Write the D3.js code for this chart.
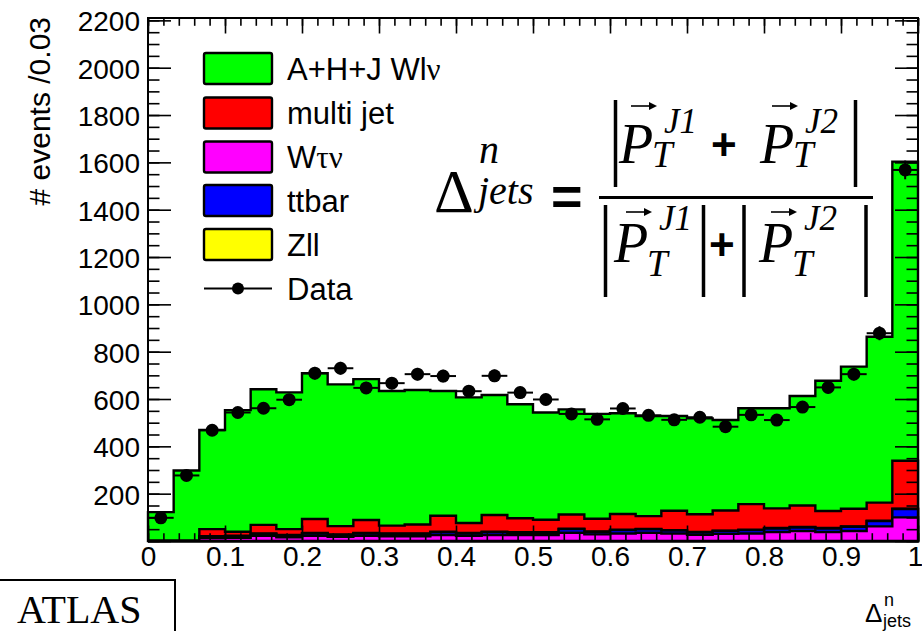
<!DOCTYPE html>
<html>
<head>
<meta charset="utf-8">
<script src="https://cdn.jsdelivr.net/npm/d3@7"></script>
<style>
  html, body { margin: 0; padding: 0; background: #fff; }
  svg { display: block; }
</style>
</head>
<body>
<svg id="chart" width="922" height="631"></svg>
<script>
// Histogram binning of the normalised dijet balance variable
const xMin = 0, xMax = 1, nBins = 30;

// Stacked simulation components (events per bin)
const wlnu     = [122, 298, 419, 514, 573, 578, 616, 599, 595, 569, 568, 527, 531, 507, 482,
                  453, 444, 443, 426, 423, 400, 405, 382, 405, 423, 463, 550, 601, 701, 1264];
const multijet = [0, 0, 30, 17, 36, 24, 59, 35, 55, 33, 38, 68, 42, 71, 59,
                  53, 60, 54, 66, 54, 82, 75, 85, 108, 83, 91, 72, 74, 76, 202];
const wtaunu   = [0, 0, 12, 14, 22, 16, 22, 18, 22, 20, 20, 25, 22, 25, 25,
                  25, 35, 28, 32, 35, 32, 26, 30, 32, 38, 42, 38, 42, 62, 100];
const ttbar    = [0, 0, 6, 6, 8, 8, 10, 8, 10, 10, 10, 12, 10, 12, 10,
                  10, 15, 10, 14, 14, 12, 10, 12, 14, 15, 15, 15, 18, 22, 35];
const zll      = [0, 0, 2, 2, 2, 2, 2, 2, 2, 2, 2, 2, 2, 2, 2,
                  2, 2, 2, 2, 2, 2, 2, 2, 2, 2, 2, 2, 2, 2, 2];

// Observed events per bin
const dataCounts = [98, 277, 468, 543, 561, 597, 709, 730, 647, 667, 705, 697, 633, 698, 627,
                    598, 537, 514, 560, 531, 512, 523, 483, 533, 511, 566, 649, 705, 878, 1568];

// Axis ticks
const xTickValues = [0, 0.1, 0.2, 0.3, 0.4, 0.5, 0.6, 0.7, 0.8, 0.9, 1];
const xTickLabels = ["0", "0.1", "0.2", "0.3", "0.4", "0.5", "0.6", "0.7", "0.8", "0.9", "1"];
const yTickValues = [200, 400, 600, 800, 1000, 1200, 1400, 1600, 1800, 2000, 2200];
const yMaxValue = 2210;

// Legend entries (stack is drawn bottom -> top: Wτν, ttbar, Zll, multi jet, Wlν)
const stackKeys = ["wtaunu", "ttbar", "zll", "multijet", "wlnu"];
const colors = { wlnu: "#00ff00", multijet: "#ff0000", wtaunu: "#ff00ff", ttbar: "#0000ff", zll: "#ffff00" };
const legendKeys = ["wlnu", "multijet", "wtaunu", "ttbar", "zll"];

const SANS = "'Liberation Sans', Arial, Helvetica, sans-serif";
const SERIF = "'Liberation Serif', 'Times New Roman', serif";

const svg = d3.select("#chart");
const frame = { left: 148, right: 918, top: 18, bottom: 541 };

const x = d3.scaleLinear().domain([xMin, xMax]).range([frame.left, frame.right]);
const y = d3.scaleLinear().domain([0, yMaxValue]).range([frame.bottom, frame.top]);
const binWidth = (xMax - xMin) / nBins;

// Build table rows for the stack
const rows = d3.range(nBins).map(i => ({
  lo: xMin + i * binWidth,
  hi: xMin + (i + 1) * binWidth,
  wlnu: wlnu[i], multijet: multijet[i], wtaunu: wtaunu[i], ttbar: ttbar[i], zll: zll[i]
}));
const stacked = d3.stack().keys(stackKeys)(rows);

function stepPath(layer) {
  const p = d3.path();
  p.moveTo(x(xMin), y(0));
  layer.forEach(d => {
    p.lineTo(x(d.data.lo), y(d[1]));
    p.lineTo(x(d.data.hi), y(d[1]));
  });
  p.lineTo(x(xMax), y(0));
  p.closePath();
  return p.toString();
}

const plot = svg.append("g");

// Draw cumulative layers from the top of the stack down
stacked.slice().reverse().forEach(layer => {
  plot.append("path")
    .attr("d", stepPath(layer))
    .attr("fill", colors[layer.key])
    .attr("stroke", "#000")
    .attr("stroke-width", 2.4)
    .attr("stroke-linejoin", "miter");
});

// Data points with error bars
const dataG = plot.append("g");
dataCounts.forEach((n, i) => {
  const lo = xMin + i * binWidth, hi = lo + binWidth, c = (lo + hi) / 2;
  const err = Math.sqrt(n);
  dataG.append("line")
    .attr("x1", x(lo)).attr("x2", x(hi)).attr("y1", y(n)).attr("y2", y(n))
    .attr("stroke", "#000").attr("stroke-width", 2);
  dataG.append("line")
    .attr("x1", x(c)).attr("x2", x(c)).attr("y1", y(n - err)).attr("y2", y(n + err))
    .attr("stroke", "#000").attr("stroke-width", 2);
  dataG.append("circle")
    .attr("cx", x(c)).attr("cy", y(n)).attr("r", 6.5).attr("fill", "#000");
});

// Axes: ROOT-style inward ticks on all four sides
const yMajorLen = 23, yMinorLen = 11.5, xMajorLen = 15.5, xMinorLen = 7.8;
const yMinorVals = d3.range(0, yMaxValue + 1, 50);
const xMinorVals = d3.range(0, 51).map(k => k * 0.02);

function styleAxis(g) {
  g.selectAll(".domain").remove();
  g.selectAll("line").attr("stroke", "#000").attr("stroke-width", 1.6);
}

// Left
svg.append("g").attr("transform", `translate(${frame.left},0)`)
  .call(d3.axisLeft(y).tickValues(yMinorVals).tickSize(-yMinorLen).tickFormat(""))
  .call(styleAxis);
svg.append("g").attr("transform", `translate(${frame.left},0)`)
  .call(d3.axisLeft(y).tickValues([0].concat(yTickValues)).tickSize(-yMajorLen).tickPadding(8)
        .tickFormat(d => d === 0 ? "" : String(d)))
  .call(styleAxis)
  .call(g => g.selectAll("text").attr("font-family", SANS).attr("font-size", 28)
        .attr("fill", "#000").attr("dy", "0.37em"));
// Right
svg.append("g").attr("transform", `translate(${frame.right},0)`)
  .call(d3.axisRight(y).tickValues(yMinorVals).tickSize(-yMinorLen).tickFormat(""))
  .call(styleAxis);
svg.append("g").attr("transform", `translate(${frame.right},0)`)
  .call(d3.axisRight(y).tickValues([0].concat(yTickValues)).tickSize(-yMajorLen).tickFormat(""))
  .call(styleAxis);
// Bottom
svg.append("g").attr("transform", `translate(0,${frame.bottom})`)
  .call(d3.axisBottom(x).tickValues(xMinorVals).tickSize(-xMinorLen).tickFormat(""))
  .call(styleAxis);
svg.append("g").attr("transform", `translate(0,${frame.bottom})`)
  .call(d3.axisBottom(x).tickValues(xTickValues).tickSize(-xMajorLen).tickPadding(5)
        .tickFormat((d, i) => xTickLabels[i]))
  .call(styleAxis)
  .call(g => g.selectAll("text").attr("font-family", SANS).attr("font-size", 28).attr("fill", "#000")
        .attr("dx", d => d === xMax ? -3 : 0));
// Top
svg.append("g").attr("transform", `translate(0,${frame.top})`)
  .call(d3.axisTop(x).tickValues(xMinorVals).tickSize(-xMinorLen).tickFormat(""))
  .call(styleAxis);
svg.append("g").attr("transform", `translate(0,${frame.top})`)
  .call(d3.axisTop(x).tickValues(xTickValues).tickSize(-xMajorLen).tickFormat(""))
  .call(styleAxis);

// Frame
svg.append("rect")
  .attr("x", frame.left).attr("y", frame.top)
  .attr("width", frame.right - frame.left).attr("height", frame.bottom - frame.top)
  .attr("fill", "none").attr("stroke", "#000").attr("stroke-width", 2);

// Y axis title
svg.append("text")
  .attr("transform", `translate(50,17) rotate(-90)`)
  .attr("text-anchor", "end")
  .attr("font-family", SANS).attr("font-size", 30).attr("fill", "#000")
  .text("# events /0.03");

// X axis title: Δ^n_jets
const xt = svg.append("g");
xt.append("text").attr("x", 865).attr("y", 622).attr("font-family", SANS).attr("font-size", 26).text("Δ");
xt.append("text").attr("x", 884).attr("y", 606).attr("font-family", SANS).attr("font-size", 18).text("n");
xt.append("text").attr("x", 883).attr("y", 627).attr("font-family", SANS).attr("font-size", 18).text("jets");

// ATLAS label box
svg.append("rect").attr("x", -2).attr("y", 580).attr("width", 177).attr("height", 60)
  .attr("fill", "#fff").attr("stroke", "#000").attr("stroke-width", 2);
svg.append("text").attr("x", 17).attr("y", 623)
  .attr("font-family", SERIF).attr("font-size", 40).attr("fill", "#000").text("ATLAS");

// Legend
const legend = svg.append("g");
const legendRowY = [68.5, 113, 157, 200.5, 244.5];
const legendBoxX = 204, legendBoxW = 68, legendBoxH = 31, legendTextX = 287;
legendKeys.forEach((k, i) => {
  legend.append("rect")
    .attr("x", legendBoxX).attr("y", legendRowY[i] - legendBoxH / 2)
    .attr("width", legendBoxW).attr("height", legendBoxH)
    .attr("fill", colors[k]).attr("stroke", "#000").attr("stroke-width", 2.4)
    .attr("rx", 2);
});
function legendText(i, parts) {
  const t = legend.append("text").attr("x", legendTextX).attr("y", legendRowY[i] + 11)
    .attr("font-size", 31).attr("fill", "#000");
  parts.forEach(p => t.append("tspan").attr("font-family", p.serif ? SERIF : SANS).text(p.s));
}
legendText(0, [{ s: "A+H+J Wl" }, { s: "ν", serif: true }]);
legendText(1, [{ s: "multi jet" }]);
legendText(2, [{ s: "W" }, { s: "τν", serif: true }]);
legendText(3, [{ s: "ttbar" }]);
legendText(4, [{ s: "Zll" }]);
const dataRowY = 288.5;
legend.append("line").attr("x1", legendBoxX).attr("x2", legendBoxX + legendBoxW)
  .attr("y1", dataRowY).attr("y2", dataRowY).attr("stroke", "#000").attr("stroke-width", 2);
legend.append("circle").attr("cx", legendBoxX + legendBoxW / 2).attr("cy", dataRowY).attr("r", 6).attr("fill", "#000");
legend.append("text").attr("x", legendTextX).attr("y", dataRowY + 11)
  .attr("font-family", SANS).attr("font-size", 31).attr("fill", "#000").text("Data");

// Definition of the variable
const f = svg.append("g").attr("fill", "#000");
function txt(xp, yp, s, size, opts = {}) {
  return f.append("text").attr("x", xp).attr("y", yp)
    .attr("font-family", opts.sans ? SANS : SERIF)
    .attr("font-style", opts.italic ? "italic" : "normal")
    .attr("font-weight", opts.bold ? "bold" : "normal")
    .attr("font-size", size).text(s);
}
function bar(xp, y1, y2) {
  f.append("line").attr("x1", xp).attr("x2", xp).attr("y1", y1).attr("y2", y2)
    .attr("stroke", "#000").attr("stroke-width", 3.5);
}
function arrow(x1, x2, yp) {
  f.append("line").attr("x1", x1).attr("x2", x2 - 3).attr("y1", yp).attr("y2", yp)
    .attr("stroke", "#000").attr("stroke-width", 1.6);
  f.append("path").attr("d", `M${x2 - 8},${yp - 4} L${x2},${yp} L${x2 - 8},${yp + 4} Z`).attr("fill", "#000");
}
// vector P with subscript T and superscript jet index
function vecP(xp, base, tBase, arrowY, sup, supBase) {
  txt(xp, base, "P", 56, { italic: true });
  arrow(xp + 12, xp + 38, arrowY);
  txt(xp + 33, tBase, "T", 37, { italic: true });
  txt(xp + 45, supBase, sup, 35, { italic: true });
}
// left-hand side
txt(434, 212, "Δ", 62);
txt(479, 163, "n", 40, { italic: true });
txt(478, 204, "jets", 40, { italic: true });
txt(551, 215, "=", 54, { sans: true, bold: true });
// fraction line
f.append("line").attr("x1", 599).attr("x2", 873).attr("y1", 197.5).attr("y2", 197.5)
  .attr("stroke", "#000").attr("stroke-width", 3);
// numerator |P1 + P2|
bar(615.5, 100, 187);
vecP(619, 163, 167, 106, "J1", 133);
txt(711, 160, "+", 44, { sans: true, bold: true });
vecP(760, 163, 167, 106, "J2", 133);
bar(855.5, 100, 187);
// denominator |P1| + |P2|
bar(605.5, 205, 297);
vecP(614, 262, 276, 212, "J1", 230);
bar(703.5, 205, 297);
txt(709, 260, "+", 44, { sans: true, bold: true });
bar(744, 205, 297);
vecP(759, 262, 276, 212, "J2", 230);
bar(866, 205, 297);
</script>
</body>
</html>
